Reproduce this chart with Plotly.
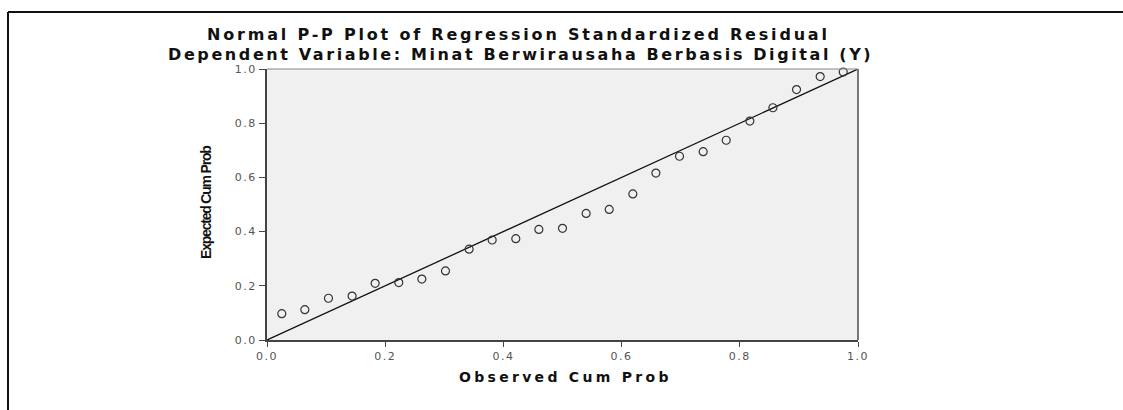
import plotly.graph_objects as go

# Observed cumulative probability (x) and expected cumulative probability (y)
observed_cum_prob = [0.025, 0.064, 0.104, 0.144, 0.183, 0.223, 0.262, 0.302, 0.342,
                     0.381, 0.421, 0.460, 0.500, 0.540, 0.579, 0.619, 0.658, 0.698,
                     0.738, 0.777, 0.817, 0.856, 0.896, 0.936, 0.975]
expected_cum_prob = [0.097, 0.112, 0.154, 0.162, 0.209, 0.212, 0.225, 0.255, 0.335,
                     0.369, 0.374, 0.408, 0.412, 0.467, 0.482, 0.539, 0.616, 0.678,
                     0.695, 0.737, 0.808, 0.857, 0.924, 0.972, 0.989]
ref_line_x = [0.0, 1.0]
ref_line_y = [0.0, 1.0]
tick_vals = [0.0, 0.2, 0.4, 0.6, 0.8, 1.0]
tick_text = ["0.0", "0.2", "0.4", "0.6", "0.8", "1.0"]

title_line1 = "Normal P-P Plot of Regression Standardized Residual"
title_line2 = "Dependent Variable: Minat Berwirausaha Berbasis Digital (Y)"
x_title = "Observed Cum Prob"
y_title = "Expected Cum Prob"

W, H = 1123, 410
L, R, T, B = 267, 1123 - 858, 69, 410 - 340
pw, ph = W - L - R, H - T - B


def px(x):
    return (x - L) / pw


def py(y):
    return (H - B - y) / ph


def spaced(text, sp, bold=True):
    s = '<span style="letter-spacing:%spx">%s</span>' % (sp, text)
    return "<b>" + s + "</b>" if bold else s


fig = go.Figure()
fig.add_trace(go.Scatter(x=ref_line_x, y=ref_line_y, mode="lines",
                         line=dict(color="#111111", width=1.3),
                         showlegend=False, hoverinfo="skip"))
fig.add_trace(go.Scatter(x=observed_cum_prob, y=expected_cum_prob, mode="markers",
                         marker=dict(symbol="circle-open", size=8,
                                     color="#333333", line=dict(width=1.2)),
                         showlegend=False, cliponaxis=False))

tickfont = dict(family="DejaVu Sans", size=11, color="#555555")
tick_labels = [spaced(t, 1.5, bold=False) for t in tick_text]
fig.update_xaxes(range=[0, 1], tickvals=tick_vals, ticktext=tick_labels,
                 showgrid=False, zeroline=False, showline=True,
                 linecolor="#444444", linewidth=2, ticks="outside",
                 ticklen=5, tickcolor="#444444", tickfont=tickfont)
fig.update_yaxes(range=[0, 1], tickvals=tick_vals, ticktext=tick_labels,
                 showgrid=False, zeroline=False, showline=True,
                 linecolor="#444444", linewidth=2, ticks="outside",
                 ticklen=6, tickcolor="#444444", tickfont=tickfont)

shapes = [
    # plot frame right and top
    dict(type="line", xref="paper", yref="paper", x0=1, x1=1, y0=0, y1=1,
         line=dict(color="#777777", width=2)),
    dict(type="line", xref="paper", yref="paper", x0=0, x1=1, y0=1, y1=1,
         line=dict(color="#888888", width=1)),
    # outer page frame (top and left)
    dict(type="line", xref="paper", yref="paper", x0=px(8), x1=px(1130), y0=py(12), y1=py(12),
         line=dict(color="#111111", width=2)),
    dict(type="line", xref="paper", yref="paper", x0=px(8), x1=px(8), y0=py(12), y1=py(420),
         line=dict(color="#111111", width=2)),
]

titlefont = dict(family="DejaVu Sans", size=16, color="#111111")
axfont = dict(family="DejaVu Sans", size=14, color="#111111")
yfont = dict(family="Liberation Sans", size=14, color="#111111")
annotations = [
    dict(text=spaced(title_line1, 2.8), x=px(518), y=py(35), xref="paper", yref="paper",
         showarrow=False, xanchor="center", yanchor="middle", font=titlefont),
    dict(text=spaced(title_line2, 2.6), x=px(520), y=py(54), xref="paper", yref="paper",
         showarrow=False, xanchor="center", yanchor="middle", font=titlefont),
    dict(text=spaced(x_title, 3.3), x=px(565), y=py(377), xref="paper", yref="paper",
         showarrow=False, xanchor="center", yanchor="middle", font=axfont),
    dict(text=spaced(y_title, -1.2), x=px(206), y=py(203), xref="paper", yref="paper",
         showarrow=False, xanchor="center", yanchor="middle", textangle=-90, font=yfont),
]

fig.update_layout(width=W, height=H, margin=dict(l=L, r=R, t=T, b=B, pad=0),
                  paper_bgcolor="white", plot_bgcolor="#f0f0f0",
                  shapes=shapes, annotations=annotations)

fig.write_html("out.html", config={"displayModeBar": False},
               post_script="document.body.style.margin='0';document.body.style.overflow='hidden';")
